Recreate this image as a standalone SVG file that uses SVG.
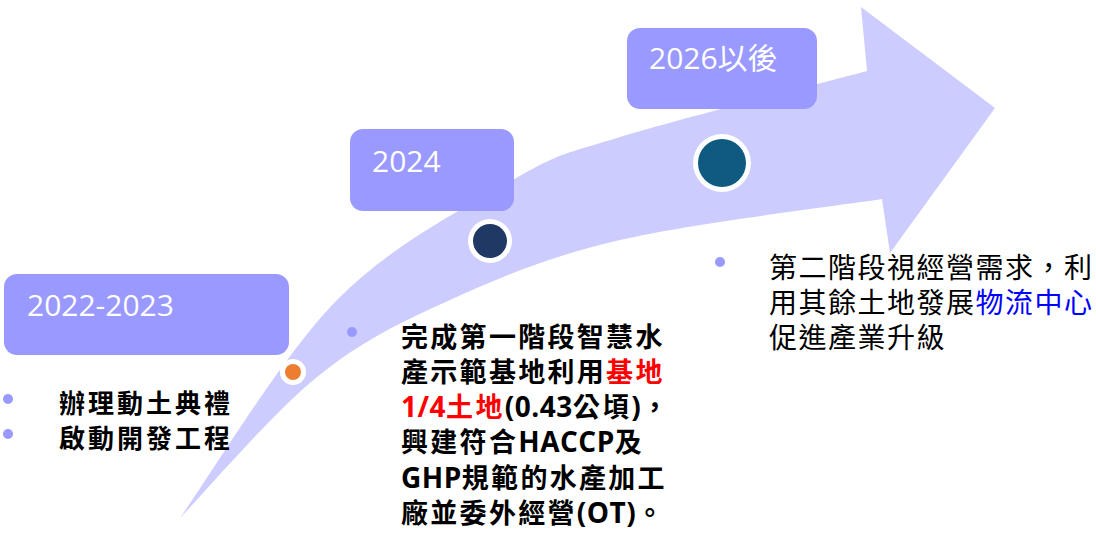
<svg xmlns="http://www.w3.org/2000/svg" width="1096" height="534" viewBox="0 0 1096 534">
<style>
.box{fill:#9999FF}
.yr{font-family:"Open Sans","Noto Sans CJK TC",sans-serif;font-size:30px;fill:#FFFFFF}
.bul{fill:#9999FF}
.t{font-family:"Open Sans","Noto Sans CJK TC",sans-serif;fill:#000000}
.b1{font-size:26px;font-weight:bold;letter-spacing:3px}
.b2{font-size:27px;font-weight:bold;letter-spacing:2.3px}
.lat{font-size:28px;letter-spacing:0.5px}
.b3{font-size:28px;letter-spacing:1.5px}
.red{fill:#FF0000}
.blue{fill:#0000FF}
.ring{fill:#FFFFFF}
</style>
<rect width="1096" height="534" fill="#FFFFFF"/>
<g id="connectors">
<path id="timeline-arrow" fill="#CCCCFF" d="M180,518 C206,482 281.5,356.3 337,300 C392.5,243.7 465.8,207.2 513,180 C560.2,152.8 561,155.2 620,137 C679,118.8 825.8,82 867,71 L861,7 L995,108 L890,253 L882,199 C838.3,205.8 692,223.2 620,240 C548,256.8 500.5,277.2 450,300 C399.5,322.8 362,340.7 317,377 C272,413.3 202.8,494.5 180,518 Z"/>
</g>
<g id="node-2022">
<rect class="box" x="4" y="274" width="285" height="81" rx="13"/>
<text class="yr" x="27" y="316">2022-2023</text>
<circle class="ring" cx="293" cy="372" r="13"/>
<circle cx="293" cy="372" r="8" fill="#ED7D31"/>
<circle class="bul" cx="8" cy="399" r="5"/>
<circle class="bul" cx="8" cy="434" r="5"/>
<text class="t b1" x="59" y="413">辦理動土典禮</text>
<text class="t b1" x="59" y="448">啟動開發工程</text>
</g>
<g id="node-2024">
<rect class="box" x="350" y="129" width="164" height="82" rx="13"/>
<text class="yr" x="372" y="172">2024</text>
<circle class="ring" cx="490" cy="241" r="22"/>
<circle cx="490" cy="241" r="17" fill="#1F3864"/>
<circle class="bul" cx="352" cy="332" r="5"/>
<text class="t b2" x="401" y="347">完成第一階段智慧水</text>
<text class="t b2" x="401" y="382">產示範基地利用<tspan class="red">基地</tspan></text>
<text class="t b2" x="401" y="417"><tspan class="red"><tspan class="lat">1/4</tspan>土地</tspan><tspan class="lat">(0.43</tspan>公頃<tspan class="lat">)</tspan>，</text>
<text class="t b2" x="401" y="452">興建符合<tspan class="lat">HACCP</tspan>及</text>
<text class="t b2" x="401" y="488"><tspan class="lat">GHP</tspan>規範的水產加工</text>
<text class="t b2" x="401" y="523">廠並委外經營<tspan class="lat">(OT)</tspan>。</text>
</g>
<g id="node-2026">
<rect class="box" x="627" y="28" width="190" height="81" rx="13"/>
<text class="yr" x="649" y="69">2026以後</text>
<circle class="ring" cx="722" cy="163" r="29"/>
<circle cx="722" cy="163" r="24" fill="#0E5A80"/>
<circle class="bul" cx="720" cy="262" r="5"/>
<text class="t b3" x="769" y="278">第二階段視經營需求，利</text>
<text class="t b3" x="769" y="313">用其餘土地發展<tspan class="blue">物流中心</tspan></text>
<text class="t b3" x="769" y="348">促進產業升級</text>
</g>
</svg>
